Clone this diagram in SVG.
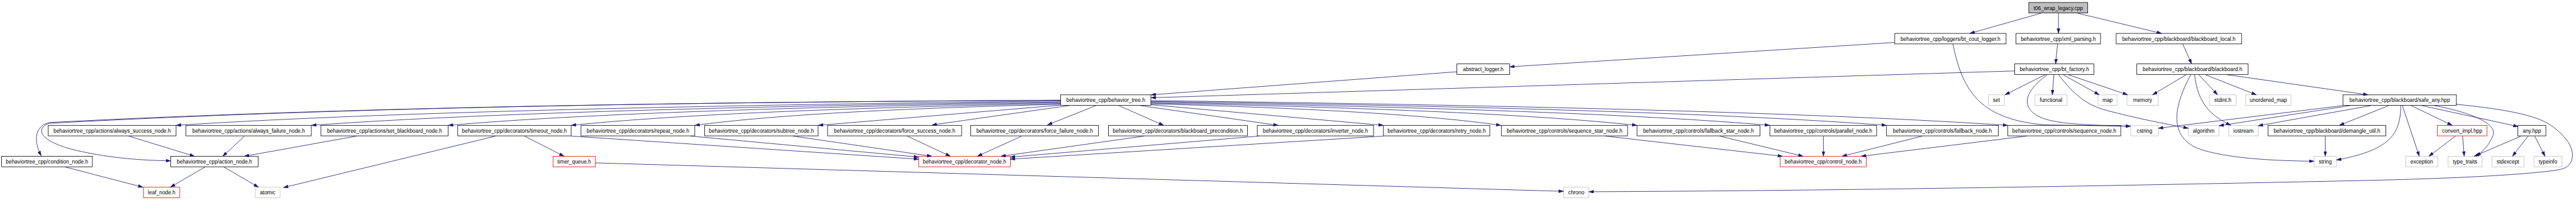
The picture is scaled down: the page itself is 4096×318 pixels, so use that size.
<svg xmlns="http://www.w3.org/2000/svg" width="4096" height="318" viewBox="0 0 4096 318">
<style>
.n rect{fill:#fff;stroke:#000;stroke-width:1.2}
.r rect{fill:#fff;stroke:#ff0000;stroke-width:1.2}
.g rect{fill:#fff;stroke:#bfbfbf;stroke-width:1.2}
.root rect{fill:#bfbfbf;stroke:#000;stroke-width:1.2}
text{font-family:"Liberation Sans",Arial,Helvetica,sans-serif;font-size:12.8px;fill:#000;text-anchor:middle}
.e path{fill:none;stroke:#191970;stroke-width:1.2;marker-end:url(#ah)}
</style>
<defs>
<marker id="ah" viewBox="0 0 12 8" refX="12" refY="4" markerWidth="12" markerHeight="8" markerUnits="userSpaceOnUse" orient="auto">
<path d="M0,0 L12,4 L0,8 z" fill="#191970" stroke="#191970" stroke-width="0.5"/>
</marker>
</defs>
<rect width="4096" height="318" fill="#fff"/>
<g transform="scale(0.65567)">
<g id="nodes">
<g id="root" class="root"><rect x="4920" y="6" width="143" height="25.5"/><text x="4991.5" y="23.7">t06_wrap_legacy.cpp</text></g>
<g id="cout" class="n"><rect x="4595" y="81" width="270" height="25.5"/><text x="4730" y="98.7">behaviortree_cpp/loggers/bt_cout_logger.h</text></g>
<g id="xml" class="n"><rect x="4889" y="81" width="205" height="25.5"/><text x="4991.5" y="98.7">behaviortree_cpp/xml_parsing.h</text></g>
<g id="bblocal" class="n"><rect x="5132" y="81" width="304" height="25.5"/><text x="5284" y="98.7">behaviortree_cpp/blackboard/blackboard_local.h</text></g>
<g id="alog" class="n"><rect x="3533" y="155" width="128" height="25.5"/><text x="3597" y="172.7">abstract_logger.h</text></g>
<g id="factory" class="n"><rect x="4886" y="155" width="192" height="25.5"/><text x="4982" y="172.7">behaviortree_cpp/bt_factory.h</text></g>
<g id="bb" class="n"><rect x="5182" y="155" width="270" height="25.5"/><text x="5317" y="172.7">behaviortree_cpp/blackboard/blackboard.h</text></g>
<g id="bt" class="n"><rect x="2572" y="230" width="219" height="25.5"/><text x="2681.5" y="247.7">behaviortree_cpp/behavior_tree.h</text></g>
<g id="set" class="g"><rect x="4822" y="230" width="39" height="25.5"/><text x="4841.5" y="247.7">set</text></g>
<g id="functional" class="g"><rect x="4935" y="230" width="78" height="25.5"/><text x="4974" y="247.7">functional</text></g>
<g id="map" class="g"><rect x="5088" y="230" width="46" height="25.5"/><text x="5111" y="247.7">map</text></g>
<g id="memory" class="g"><rect x="5158" y="230" width="76" height="25.5"/><text x="5196" y="247.7">memory</text></g>
<g id="stdint" class="g"><rect x="5358" y="230" width="65" height="25.5"/><text x="5390.5" y="247.7">stdint.h</text></g>
<g id="umap" class="g"><rect x="5446" y="230" width="110" height="25.5"/><text x="5501" y="247.7">unordered_map</text></g>
<g id="safeany" class="n"><rect x="5682" y="230" width="275" height="25.5"/><text x="5819.5" y="247.7">behaviortree_cpp/blackboard/safe_any.hpp</text></g>
<g id="always_success" class="n"><rect x="117" y="304" width="310" height="25.5"/><text x="272" y="321.7">behaviortree_cpp/actions/always_success_node.h</text></g>
<g id="always_failure" class="n"><rect x="451" y="304" width="304" height="25.5"/><text x="603" y="321.7">behaviortree_cpp/actions/always_failure_node.h</text></g>
<g id="set_bb" class="n"><rect x="778" y="304" width="309" height="25.5"/><text x="932.5" y="321.7">behaviortree_cpp/actions/set_blackboard_node.h</text></g>
<g id="timeout" class="n"><rect x="1110" y="304" width="275" height="25.5"/><text x="1247.5" y="321.7">behaviortree_cpp/decorators/timeout_node.h</text></g>
<g id="repeat" class="n"><rect x="1409" y="304" width="276" height="25.5"/><text x="1547" y="321.7">behaviortree_cpp/decorators/repeat_node.h</text></g>
<g id="subtree" class="n"><rect x="1709" y="304" width="275" height="25.5"/><text x="1846.5" y="321.7">behaviortree_cpp/decorators/subtree_node.h</text></g>
<g id="force_success" class="n"><rect x="2007" y="304" width="325" height="25.5"/><text x="2169.5" y="321.7">behaviortree_cpp/decorators/force_success_node.h</text></g>
<g id="force_failure" class="n"><rect x="2354" y="304" width="310" height="25.5"/><text x="2509" y="321.7">behaviortree_cpp/decorators/force_failure_node.h</text></g>
<g id="bb_precond" class="n"><rect x="2688" y="304" width="337" height="25.5"/><text x="2856.5" y="321.7">behaviortree_cpp/decorators/blackboard_precondition.h</text></g>
<g id="inverter" class="n"><rect x="3049" y="304" width="282" height="25.5"/><text x="3190" y="321.7">behaviortree_cpp/decorators/inverter_node.h</text></g>
<g id="retry" class="n"><rect x="3355" y="304" width="258" height="25.5"/><text x="3484" y="321.7">behaviortree_cpp/decorators/retry_node.h</text></g>
<g id="seq_star" class="n"><rect x="3641" y="304" width="306" height="25.5"/><text x="3794" y="321.7">behaviortree_cpp/controls/sequence_star_node.h</text></g>
<g id="fb_star" class="n"><rect x="3970" y="304" width="298" height="25.5"/><text x="4119" y="321.7">behaviortree_cpp/controls/fallback_star_node.h</text></g>
<g id="parallel" class="n"><rect x="4292" y="304" width="259" height="25.5"/><text x="4421.5" y="321.7">behaviortree_cpp/controls/parallel_node.h</text></g>
<g id="fallback" class="n"><rect x="4575" y="304" width="271" height="25.5"/><text x="4710.5" y="321.7">behaviortree_cpp/controls/fallback_node.h</text></g>
<g id="sequence" class="n"><rect x="4869" y="304" width="274" height="25.5"/><text x="5006" y="321.7">behaviortree_cpp/controls/sequence_node.h</text></g>
<g id="cstring" class="g"><rect x="5167" y="304" width="67" height="25.5"/><text x="5200.5" y="321.7">cstring</text></g>
<g id="algorithm" class="g"><rect x="5307" y="304" width="74" height="25.5"/><text x="5344" y="321.7">algorithm</text></g>
<g id="iostream" class="g"><rect x="5405" y="304" width="71" height="25.5"/><text x="5440.5" y="321.7">iostream</text></g>
<g id="demangle" class="n"><rect x="5500" y="304" width="286" height="25.5"/><text x="5643" y="321.7">behaviortree_cpp/blackboard/demangle_util.h</text></g>
<g id="convert" class="r"><rect x="5911" y="304" width="120" height="25.5"/><text x="5971" y="321.7">convert_impl.hpp</text></g>
<g id="any" class="n"><rect x="6106" y="304" width="68" height="25.5"/><text x="6140" y="321.7">any.hpp</text></g>
<g id="condition" class="n"><rect x="4" y="379" width="220" height="25.5"/><text x="114" y="396.7">behaviortree_cpp/condition_node.h</text></g>
<g id="action" class="n"><rect x="414" y="379" width="212" height="25.5"/><text x="520" y="396.7">behaviortree_cpp/action_node.h</text></g>
<g id="timer_queue" class="r"><rect x="1341" y="379" width="103" height="25.5"/><text x="1392.5" y="396.7">timer_queue.h</text></g>
<g id="decorator" class="r"><rect x="2228" y="379" width="222" height="25.5"/><text x="2339" y="396.7">behaviortree_cpp/decorator_node.h</text></g>
<g id="control" class="r"><rect x="4317" y="379" width="209" height="25.5"/><text x="4421.5" y="396.7">behaviortree_cpp/control_node.h</text></g>
<g id="string" class="g"><rect x="5612" y="379" width="54" height="25.5"/><text x="5639" y="396.7">string</text></g>
<g id="exception" class="g"><rect x="5834" y="379" width="78" height="25.5"/><text x="5873" y="396.7">exception</text></g>
<g id="type_traits" class="g"><rect x="5937" y="379" width="82" height="25.5"/><text x="5978" y="396.7">type_traits</text></g>
<g id="stdexcept" class="g"><rect x="6043" y="379" width="78" height="25.5"/><text x="6082" y="396.7">stdexcept</text></g>
<g id="typeinfo" class="g"><rect x="6145" y="379" width="68" height="25.5"/><text x="6179" y="396.7">typeinfo</text></g>
<g id="leaf" class="r"><rect x="348" y="454" width="88" height="25.5"/><text x="392" y="471.7">leaf_node.h</text></g>
<g id="atomic" class="g"><rect x="619" y="454" width="60" height="25.5"/><text x="649" y="471.7">atomic</text></g>
<g id="chrono" class="g"><rect x="3792" y="454" width="61" height="25.5"/><text x="3822.5" y="471.7">chrono</text></g>
</g>
<g id="connectors" class="e">
<path d="M4950,32 L4777,81"/>
<path d="M4992,32 L4992,81"/>
<path d="M5038,32 L5242,81"/>
<path d="M4990,106 L4985,155"/>
<path d="M5293,106 L5315,155"/>
<path d="M4595,103 L3661,162"/>
<path d="M4736,106 C4760,230 4810,290 4960,303 L5167,306"/>
<path d="M4965,181 C4905,225 4905,260 4940,280 C4970,298 5030,303 5167,306"/>
<path d="M4886,172 L2791,237"/>
<path d="M3533,174 L2791,230"/>
<path d="M4960,181 L4862,230"/>
<path d="M4981,181 L4977,230"/>
<path d="M5003,181 L5091,230"/>
<path d="M5015,181 L5160,230"/>
<path d="M4992,181 C5030,230 5060,255 5110,268 C5180,287 5250,300 5307,311"/>
<path d="M5302,181 L5220,230"/>
<path d="M5313,181 C5270,260 5260,330 5330,360 C5400,385 5520,390 5612,391"/>
<path d="M5322,181 C5330,250 5360,280 5410,304"/>
<path d="M5332,181 L5378,230"/>
<path d="M5348,181 L5472,230"/>
<path d="M5400,181 L5743,230"/>
<path d="M5682,256 L5234,311"/>
<path d="M5700,256 L5381,305"/>
<path d="M5750,256 L5476,305"/>
<path d="M5793,256 L5673,304"/>
<path d="M5639,330 L5639,379"/>
<path d="M5822,256 C5822,330 5790,365 5666,388"/>
<path d="M5826,256 L5867,379"/>
<path d="M5847,256 L5947,304"/>
<path d="M5873,256 L6107,307"/>
<path d="M5903,256 C5990,272 6060,300 6045,330 C6035,355 6020,368 6005,379"/>
<path d="M5957,253 C6080,265 6150,280 6185,303 C6230,335 6245,365 6236,390 C6230,405 6220,410 6190,414 C6100,425 5950,433 5720,438 Q4600,462 3853,465"/>
<path d="M5955,330 L5890,379"/>
<path d="M5972,330 L5976,379"/>
<path d="M6114,330 L6000,379"/>
<path d="M6131,330 L6093,379"/>
<path d="M6147,330 L6172,379"/>
<path d="M1444,395 L3792,464"/>
<path d="M1272,330 L1368,379"/>
<path d="M1202,330 L687,455"/>
<path d="M543,405 L627,454"/>
<path d="M158,405 L347,454"/>
<path d="M497,405 L413,454"/>
<path d="M312,330 L472,379"/>
<path d="M593,330 L540,379"/>
<path d="M865,330 L592,379"/>
<path d="M1385,330 L2228,386"/>
<path d="M1675,330 L2228,381"/>
<path d="M1923,330 L2260,379"/>
<path d="M2200,330 L2305,379"/>
<path d="M2478,330 L2370,379"/>
<path d="M2775,330 L2427,379"/>
<path d="M3053,330 L2450,381"/>
<path d="M3355,330 L2450,386"/>
<path d="M3893,330 L4323,379"/>
<path d="M4170,330 L4373,379"/>
<path d="M4422,330 L4422,379"/>
<path d="M4662,330 L4467,379"/>
<path d="M4915,330 L4513,379"/>
<path d="M2572,243 C1600,248 800,262 120,297 C85,305 80,340 100,378"/>
<path d="M2572,243 C1600,248 800,262 120,299 C85,310 90,345 200,368 C270,383 340,389 414,390"/>
<path d="M2572,245 Q1070,262 427,304"/>
<path d="M2572,247 Q1300,264 755,304"/>
<path d="M2572,249 Q1532,265 1087,304"/>
<path d="M2572,251 Q1741,267 1385,304"/>
<path d="M2572,253 Q1951,268 1685,304"/>
<path d="M2572,255 L1984,304"/>
<path d="M2593,256 L2260,303"/>
<path d="M2658,256 L2540,303"/>
<path d="M2713,256 L2822,304"/>
<path d="M2765,256 L3100,304"/>
<path d="M2791,254 L3355,304"/>
<path d="M2791,252 Q3385,267 3640,304"/>
<path d="M2791,250 Q3617,266 3970,304"/>
<path d="M2791,248 Q3842,265 4292,304"/>
<path d="M2791,246 Q4040,263 4575,304"/>
<path d="M2791,244 Q4246,262 4869,304"/>
</g>
</g>
</svg>
